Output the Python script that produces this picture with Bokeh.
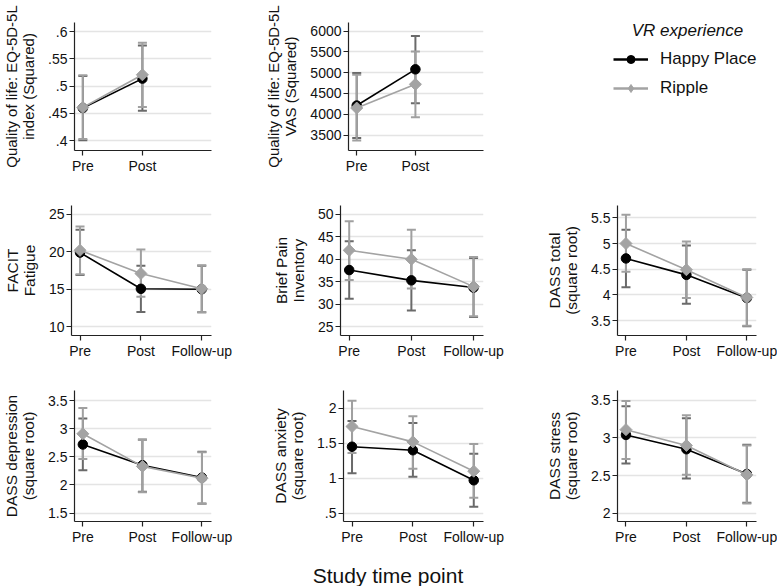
import numpy as np
from bokeh.plotting import figure
from bokeh.models import (ColumnDataSource, Range1d, FixedTicker, Whisker, TeeHead,
                          Legend, LegendItem, Label)
from bokeh.layouts import row, column
from bokeh.embed import file_html
from bokeh.resources import INLINE

# ---------------- data ----------------
time_points = ["Pre", "Post", "Follow-up"]
series_names = ["Happy Place", "Ripple"]

# Quality of life: EQ-5D-5L index (Squared)
eqi_hp_mean = [0.460, 0.514]
eqi_hp_lo = [0.401, 0.455]
eqi_hp_hi = [0.519, 0.575]
eqi_rp_mean = [0.461, 0.521]
eqi_rp_lo = [0.403, 0.462]
eqi_rp_hi = [0.520, 0.580]
eqi_ticks = [0.4, 0.45, 0.5, 0.55, 0.6]

# Quality of life: EQ-5D-5L VAS (Squared)
vas_hp_mean = [4210, 5080]
vas_hp_lo = [3430, 4266]
vas_hp_hi = [4990, 5883]
vas_rp_mean = [4150, 4720]
vas_rp_lo = [3370, 3930]
vas_rp_hi = [4950, 5508]
vas_ticks = [3500, 4000, 4500, 5000, 5500, 6000]

# FACIT Fatigue
fac_hp_mean = [19.9, 15.05, 15.0]
fac_hp_lo = [16.9, 11.95, 11.9]
fac_hp_hi = [22.95, 18.15, 18.15]
fac_rp_mean = [20.2, 17.1, 15.05]
fac_rp_lo = [17.0, 14.0, 11.9]
fac_rp_hi = [23.4, 20.3, 18.2]
fac_ticks = [10, 15, 20, 25]

# Brief Pain Inventory
bpi_hp_mean = [37.6, 35.3, 33.7]
bpi_hp_lo = [31.2, 28.6, 27.1]
bpi_hp_hi = [44.0, 42.0, 40.3]
bpi_rp_mean = [42.0, 40.0, 33.9]
bpi_rp_lo = [35.4, 33.5, 27.3]
bpi_rp_hi = [48.5, 46.6, 40.5]
bpi_ticks = [25, 30, 35, 40, 45, 50]

# DASS total (square root)
dtot_hp_mean = [4.71, 4.39, 3.94]
dtot_hp_lo = [4.15, 3.83, 3.39]
dtot_hp_hi = [5.27, 4.96, 4.49]
dtot_rp_mean = [5.00, 4.49, 3.95]
dtot_rp_lo = [4.45, 3.94, 3.40]
dtot_rp_hi = [5.56, 5.04, 4.50]
dtot_ticks = [3.5, 4, 4.5, 5, 5.5]

# DASS depression (square root)
ddep_hp_mean = [2.72, 2.35, 2.13]
ddep_hp_lo = [2.26, 1.88, 1.67]
ddep_hp_hi = [3.18, 2.81, 2.59]
ddep_rp_mean = [2.91, 2.33, 2.12]
ddep_rp_lo = [2.46, 1.87, 1.66]
ddep_rp_hi = [3.37, 2.80, 2.58]
ddep_ticks = [1.5, 2, 2.5, 3, 3.5]

# DASS anxiety (square root)
danx_hp_mean = [1.45, 1.40, 0.97]
danx_hp_lo = [1.07, 1.02, 0.59]
danx_hp_hi = [1.82, 1.79, 1.35]
danx_rp_mean = [1.74, 1.52, 1.10]
danx_rp_lo = [1.36, 1.135, 0.72]
danx_rp_hi = [2.11, 1.885, 1.49]
danx_ticks = [0.5, 1, 1.5, 2]

# DASS stress (square root)
dstr_hp_mean = [3.04, 2.85, 2.52]
dstr_hp_lo = [2.66, 2.46, 2.14]
dstr_hp_hi = [3.42, 3.26, 2.91]
dstr_rp_mean = [3.11, 2.90, 2.51]
dstr_rp_lo = [2.72, 2.51, 2.13]
dstr_rp_hi = [3.49, 3.30, 2.90]
dstr_ticks = [2, 2.5, 3, 3.5]

# ---------------- style ----------------
FONT = "Liberation Sans"
HP_COLOR = "#000000"
HP_CI = "#6a6a6a"
RP_COLOR = "#a3a3a3"
RP_CI = "#a0a0a0"
GRID = "#e4e4e4"
AXIS = "#222222"
TEXT = "#111111"

panels = [
    dict(label="Quality of life: EQ-5D-5L\nindex (Squared)", yr=(0.382, 0.617), ticks=eqi_ticks,
         hp=(eqi_hp_mean, eqi_hp_lo, eqi_hp_hi), rp=(eqi_rp_mean, eqi_rp_lo, eqi_rp_hi)),
    dict(label="Quality of life: EQ-5D-5L\nVAS (Squared)", yr=(3130, 6205), ticks=vas_ticks,
         hp=(vas_hp_mean, vas_hp_lo, vas_hp_hi), rp=(vas_rp_mean, vas_rp_lo, vas_rp_hi)),
    dict(label="FACIT\nFatigue", yr=(8.8, 26.2), ticks=fac_ticks,
         hp=(fac_hp_mean, fac_hp_lo, fac_hp_hi), rp=(fac_rp_mean, fac_rp_lo, fac_rp_hi)),
    dict(label="Brief Pain\nInventory", yr=(23.0, 52.0), ticks=bpi_ticks,
         hp=(bpi_hp_mean, bpi_hp_lo, bpi_hp_hi), rp=(bpi_rp_mean, bpi_rp_lo, bpi_rp_hi)),
    dict(label="DASS total\n(square root)", yr=(3.21, 5.74), ticks=dtot_ticks,
         hp=(dtot_hp_mean, dtot_hp_lo, dtot_hp_hi), rp=(dtot_rp_mean, dtot_rp_lo, dtot_rp_hi)),
    dict(label="DASS depression\n(square root)", yr=(1.35, 3.68), ticks=ddep_ticks,
         hp=(ddep_hp_mean, ddep_hp_lo, ddep_hp_hi), rp=(ddep_rp_mean, ddep_rp_lo, ddep_rp_hi)),
    dict(label="DASS anxiety\n(square root)", yr=(0.38, 2.255), ticks=danx_ticks,
         hp=(danx_hp_mean, danx_hp_lo, danx_hp_hi), rp=(danx_rp_mean, danx_rp_lo, danx_rp_hi)),
    dict(label="DASS stress\n(square root)", yr=(1.89, 3.63), ticks=dstr_ticks,
         hp=(dstr_hp_mean, dstr_hp_lo, dstr_hp_hi), rp=(dstr_rp_mean, dstr_rp_lo, dstr_rp_hi)),
]

COL_W = [262, 278, 237]
ROW_H = [185, 185, 183]
TITLE_H = 33
ROW_MB = [(18, 35), (20, 35), (20, 32)]           # (top, bottom)
COL_MB_RIGHT = [51, 57, 21]
MB_LEFT = {(0, 0): 72, (0, 1): 86, (1, 0): 68, (1, 1): 78, (1, 2): 77,
           (2, 0): 72, (2, 1): 81, (2, 2): 77}


def tick_text(t):
    s = f"{t:g}"
    return s[1:] if s.startswith("0.") else s


def make_panel(spec, r, c):
    p = figure(width=COL_W[c], height=ROW_H[r], output_backend="svg", toolbar_location=None,
               title=None, x_range=Range1d(0.86, 3.16), y_range=Range1d(*spec["yr"]),
               min_border_left=MB_LEFT[(r, c)], min_border_right=COL_MB_RIGHT[c],
               min_border_top=ROW_MB[r][0], min_border_bottom=ROW_MB[r][1])
    p.outline_line_color = None
    p.background_fill_color = "white"
    p.border_fill_color = "white"
    p.xgrid.visible = False
    p.ygrid.grid_line_color = GRID
    p.ygrid.grid_line_width = 1.5

    n = len(spec["hp"][0])
    xs = list(range(1, n + 1))
    p.xaxis.ticker = FixedTicker(ticks=xs)
    p.xaxis.major_label_overrides = {i + 1: time_points[i] for i in range(n)}
    p.yaxis.ticker = FixedTicker(ticks=spec["ticks"])
    p.yaxis.major_label_overrides = {t: tick_text(t) for t in spec["ticks"]}

    for ax in (p.xaxis[0], p.yaxis[0]):
        ax.axis_line_color = AXIS
        ax.axis_line_width = 1.2
        ax.major_tick_line_color = AXIS
        ax.major_tick_line_width = 1.2
        ax.major_tick_out = 5
        ax.major_tick_in = 0
        ax.minor_tick_line_color = None
        ax.major_label_text_font = FONT
        ax.major_label_text_font_size = "14px"
        ax.major_label_text_color = TEXT
        ax.major_label_standoff = 2
    ya = p.yaxis[0]
    ya.axis_label = spec["label"]
    ya.axis_label_text_font = FONT
    ya.axis_label_text_font_size = "15px" if r == 0 else "15.5px"
    ya.axis_label_text_font_style = "normal"
    ya.axis_label_text_color = TEXT
    ya.axis_label_standoff = 8
    ya.axis_label_text_line_height = 1.0

    series = [(spec["hp"], HP_COLOR, HP_CI, "circle", 9.5, 0.0),
              (spec["rp"], RP_COLOR, RP_CI, "square", 8.5, np.pi / 4)]
    srcs = []
    for (mean, lo, hi), col, cicol, mk, sz, ang in series:
        src = ColumnDataSource(dict(x=xs, y=mean, lo=lo, hi=hi))
        srcs.append(src)
        w = Whisker(source=src, base="x", lower="lo", upper="hi", line_color=cicol, line_width=2,
                    lower_head=TeeHead(size=9, line_color=cicol, line_width=2),
                    upper_head=TeeHead(size=9, line_color=cicol, line_width=2))
        p.add_layout(w)
    for src, ((mean, lo, hi), col, cicol, mk, sz, ang) in zip(srcs, series):
        p.line("x", "y", source=src, line_color=col, line_width=1.6)
        p.scatter("x", "y", source=src, marker=mk, size=sz, angle=ang,
                  fill_color=col, line_color=col)
    return p


figs = {}
layout_pos = [(0, 0), (0, 1), (1, 0), (1, 1), (1, 2), (2, 0), (2, 1), (2, 2)]
for spec, (r, c) in zip(panels, layout_pos):
    figs[(r, c)] = make_panel(spec, r, c)

# legend panel
lw, lh = COL_W[2], ROW_H[0]
LG_LEFT, LG_TOP, LG_MARGIN = 46, 22, 27
fw, fh = lw - LG_LEFT, lh - LG_TOP
lg = figure(width=lw, height=lh, output_backend="svg", toolbar_location=None, title=None,
            x_range=Range1d(0, fw), y_range=Range1d(0, fh), x_axis_location=None,
            y_axis_location=None, min_border_left=LG_LEFT, min_border_top=LG_TOP,
            min_border_right=0, min_border_bottom=0)
lg.outline_line_color = None
lg.grid.visible = False
nan_hp = ColumnDataSource(dict(x=np.array([np.nan]), y=np.array([np.nan])))
nan_rp = ColumnDataSource(dict(x=np.array([np.nan]), y=np.array([np.nan])))
l1 = lg.line("x", "y", source=nan_hp, line_color=HP_COLOR, line_width=2.5)
s1 = lg.scatter("x", "y", source=nan_hp, marker="circle", size=11, fill_color=HP_COLOR,
                line_color=HP_COLOR)
l2 = lg.line("x", "y", source=nan_rp, line_color=RP_COLOR, line_width=2.5)
s2 = lg.scatter("x", "y", source=nan_rp, marker="diamond", size=18,
                fill_color=RP_COLOR, line_color=RP_COLOR)
legend = Legend(items=[LegendItem(label=series_names[0], renderers=[l1, s1]),
                       LegendItem(label=series_names[1], renderers=[l2, s2])],
                location="top_left", orientation="vertical", padding=0, margin=LG_MARGIN,
                spacing=9, glyph_width=35, glyph_height=20, label_standoff=12,
                label_text_font=FONT, label_text_font_size="17px", label_text_color=TEXT,
                border_line_color=None, background_fill_alpha=0)
lg.add_layout(legend, "center")
lg.add_layout(Label(x=101, y=fh - 10, text="VR experience", text_align="center",
                    text_baseline="middle", text_font=FONT, text_font_size="17px",
                    text_font_style="italic", text_color=TEXT))
figs[(0, 2)] = lg

# overall x title
tw = sum(COL_W)
tf = figure(width=tw, height=TITLE_H, output_backend="svg", toolbar_location=None, title=None,
            x_range=Range1d(0, tw), y_range=Range1d(0, TITLE_H), x_axis_location=None,
            y_axis_location=None, min_border=0)
tf.outline_line_color = None
tf.grid.visible = False
tf.add_layout(Label(x=tw / 2 - 1, y=11, text="Study time point", text_align="center",
                    text_baseline="middle", text_font=FONT, text_font_size="21px",
                    text_color=TEXT))

layout = column(
    row(figs[(0, 0)], figs[(0, 1)], figs[(0, 2)]),
    row(figs[(1, 0)], figs[(1, 1)], figs[(1, 2)]),
    row(figs[(2, 0)], figs[(2, 1)], figs[(2, 2)]),
    tf,
)

open("out.html", "w").write(file_html(layout, INLINE, title="VR experience outcomes"))
